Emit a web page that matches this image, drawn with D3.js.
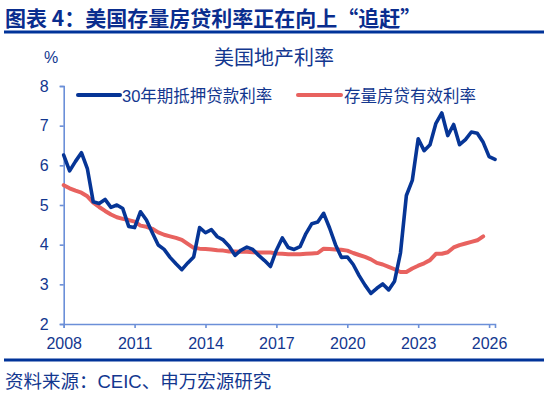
<!DOCTYPE html>
<html>
<head>
<meta charset="utf-8">
<script src="https://cdn.jsdelivr.net/npm/d3@7/dist/d3.min.js"></script>
<style>
  html, body { margin: 0; padding: 0; background: #fff; }
  svg { display: block; }
  text { font-family: "Liberation Sans", "Noto Sans CJK SC", sans-serif; }
</style>
</head>
<body>
<svg id="chart" width="548" height="395"></svg>
<script>
// quarterly series, first point = 2008Q1
const startYear = 2008;
const mortgage30 = [6.26, 5.86, 6.10, 6.32, 5.92, 5.08, 5.04, 5.14, 4.94, 5.00,
  4.91, 4.46, 4.43, 4.83, 4.62, 4.30, 3.99, 3.88, 3.68, 3.52,
  3.37, 3.54, 3.69, 4.43, 4.30, 4.38, 4.20, 4.12, 3.96, 3.73,
  3.86, 3.94, 3.88, 3.73, 3.60, 3.45, 3.86, 4.17, 3.93, 3.88,
  3.95, 4.28, 4.53, 4.57, 4.79, 4.42, 4.00, 3.68, 3.69, 3.50,
  3.22, 2.98, 2.77, 2.90, 3.01, 2.86, 3.08, 3.79, 5.24, 5.62,
  6.67, 6.37, 6.52, 7.06, 7.32, 6.75, 7.03, 6.52, 6.65, 6.84,
  6.81, 6.58, 6.22, 6.15];
const effectiveRate = [5.50, 5.42, 5.36, 5.31, 5.22, 5.06, 4.95, 4.85, 4.76, 4.69,
  4.65, 4.62, 4.58, 4.48, 4.45, 4.40, 4.31, 4.25, 4.21, 4.17,
  4.12, 4.02, 3.92, 3.90, 3.89, 3.88, 3.86, 3.85, 3.83, 3.83,
  3.82, 3.82, 3.81, 3.80, 3.80, 3.80, 3.78, 3.77, 3.76, 3.76,
  3.76, 3.77, 3.78, 3.79, 3.90, 3.89, 3.88, 3.87, 3.85, 3.79,
  3.74, 3.69, 3.63, 3.54, 3.50, 3.44, 3.38, 3.31, 3.31, 3.40,
  3.47, 3.53, 3.61, 3.77, 3.77, 3.81, 3.93, 3.99, 4.03, 4.07,
  4.11, 4.21];
const yearTicks = [2008, 2011, 2014, 2017, 2020, 2023, 2026];
const valueTicks = [2, 3, 4, 5, 6, 7, 8];
const seriesNames = ["30年期抵押贷款利率", "存量房贷有效利率"];

const navy = "#0a2d8e";
const textBlue = "#13378f";
const axisBlue = "#6b8fd8";
const blue = "#063596";
const red = "#e8625f";

const svg = d3.select("#chart");
svg.append("rect").attr("width", 548).attr("height", 395).attr("fill", "#fff");

// header
svg.append("text")
  .attr("x", 5).attr("y", 26)
  .style("font-family", "'Noto Sans CJK SC', sans-serif")
  .style("font-weight", "bold").style("font-size", "21px")
  .attr("fill", navy)
  .text("图表 4：美国存量房贷利率正在向上“追赶”");
svg.append("line").attr("x1", 4).attr("x2", 544).attr("y1", 32).attr("y2", 32)
  .attr("stroke", "#003399").attr("stroke-width", 3);
svg.append("line").attr("x1", 4).attr("x2", 544).attr("y1", 360).attr("y2", 360)
  .attr("stroke", "#003399").attr("stroke-width", 3);
svg.append("text")
  .attr("x", 5).attr("y", 388)
  .style("font-size", "18.5px").attr("fill", textBlue)
  .text("资料来源：CEIC、申万宏源研究");

const x = d3.scaleLinear().domain([2008, 2026.25]).range([63.7, 495]);
const y = d3.scaleLinear().domain([2, 8]).range([324, 86]);

// title + unit
svg.append("text").attr("x", 274).attr("y", 65).attr("text-anchor", "middle")
  .style("font-size", "20px").attr("fill", textBlue).text("美国地产利率");
svg.append("text").attr("x", 44).attr("y", 63)
  .style("font-size", "16px").attr("fill", textBlue).text("%");

// axes
const xAxis = svg.append("g").attr("transform", "translate(0,324)")
  .call(d3.axisBottom(x).tickValues(yearTicks).tickFormat(d3.format("d")).tickSize(4).tickPadding(10));
const yAxis = svg.append("g").attr("transform", "translate(63.7,0)")
  .call(d3.axisLeft(y).tickValues(valueTicks).tickFormat(d3.format("d")).tickSize(4).tickPadding(11));
[xAxis, yAxis].forEach(g => {
  g.select(".domain").attr("stroke", axisBlue).attr("stroke-width", 1.6);
  g.selectAll(".tick line").attr("stroke", axisBlue).attr("stroke-width", 1.6);
  g.selectAll(".tick text").attr("fill", textBlue)
    .style("font-size", "16px").style("font-family", "'Liberation Sans', sans-serif");
});

const qx = (d, i) => x(startYear + i / 4);
const line = d3.line().x(qx).y(d => y(d)).curve(d3.curveLinear);

svg.append("path").datum(effectiveRate).attr("d", line)
  .attr("fill", "none").attr("stroke", red).attr("stroke-width", 4)
  .attr("stroke-linejoin", "round").attr("stroke-linecap", "round");
svg.append("path").datum(mortgage30).attr("d", line)
  .attr("fill", "none").attr("stroke", blue).attr("stroke-width", 3.6)
  .attr("stroke-linejoin", "round").attr("stroke-linecap", "round");

// legend
const legend = [
  { name: seriesNames[0], color: blue, x1: 78, x2: 120, tx: 122 },
  { name: seriesNames[1], color: red, x1: 298, x2: 341, tx: 344 }
];
const lg = svg.append("g").selectAll("g").data(legend).join("g");
lg.append("line").attr("x1", d => d.x1).attr("x2", d => d.x2)
  .attr("y1", 95).attr("y2", 95)
  .attr("stroke", d => d.color).attr("stroke-width", 4).attr("stroke-linecap", "round");
lg.append("text").attr("x", d => d.tx).attr("y", 102)
  .style("font-size", "16.5px").attr("fill", textBlue).text(d => d.name);
</script>
</body>
</html>
